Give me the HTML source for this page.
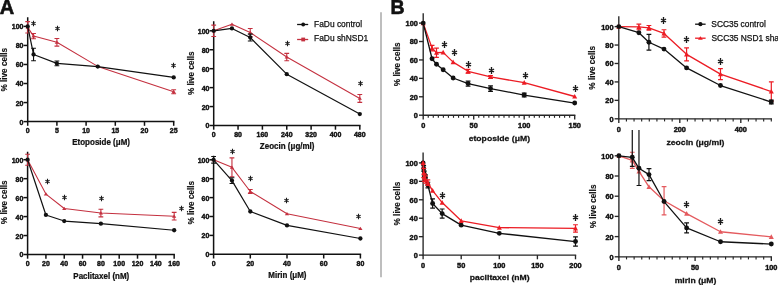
<!DOCTYPE html>
<html><head><meta charset="utf-8"><style>
html,body{margin:0;padding:0;background:#fff;width:778px;height:285px;overflow:hidden}
svg{display:block;will-change:transform}
text{font-family:"Liberation Sans",sans-serif}
.t{stroke:#111;stroke-width:0.45px}
.l{stroke:#111;stroke-width:0.25px}
.y{stroke:#111;stroke-width:0.15px}
.x{stroke:#111;stroke-width:0.25px}
</style></head><body>
<svg width="778" height="285" viewBox="0 0 778 285" font-family="Liberation Sans, sans-serif" fill="#111">
<rect width="778" height="285" fill="#fff"/>
<path d="M27.7 18V121.6H173.7" stroke="#111" stroke-width="1.5" fill="none" stroke-linecap="square"/>
<path d="M23.5 121.6H27.7" stroke="#111" stroke-width="1.5"/>
<text transform="translate(23.5 124.56) scale(0.92 1)" font-size="7.6" font-weight="bold" text-anchor="end" class="t">0</text>
<path d="M23.5 102.56H27.7" stroke="#111" stroke-width="1.5"/>
<text transform="translate(23.5 105.52) scale(0.92 1)" font-size="7.6" font-weight="bold" text-anchor="end" class="t">20</text>
<path d="M23.5 83.52H27.7" stroke="#111" stroke-width="1.5"/>
<text transform="translate(23.5 86.48) scale(0.92 1)" font-size="7.6" font-weight="bold" text-anchor="end" class="t">40</text>
<path d="M23.5 64.48H27.7" stroke="#111" stroke-width="1.5"/>
<text transform="translate(23.5 67.44) scale(0.92 1)" font-size="7.6" font-weight="bold" text-anchor="end" class="t">60</text>
<path d="M23.5 45.44H27.7" stroke="#111" stroke-width="1.5"/>
<text transform="translate(23.5 48.4) scale(0.92 1)" font-size="7.6" font-weight="bold" text-anchor="end" class="t">80</text>
<path d="M23.5 26.4H27.7" stroke="#111" stroke-width="1.5"/>
<text transform="translate(23.5 29.36) scale(0.92 1)" font-size="7.6" font-weight="bold" text-anchor="end" class="t">100</text>
<path d="M27.7 121.6V125.8" stroke="#111" stroke-width="1.5"/>
<text transform="translate(27.7 133.1) scale(0.92 1)" font-size="7.6" font-weight="bold" text-anchor="middle" class="t">0</text>
<path d="M56.9 121.6V125.8" stroke="#111" stroke-width="1.5"/>
<text transform="translate(56.9 133.1) scale(0.92 1)" font-size="7.6" font-weight="bold" text-anchor="middle" class="t">5</text>
<path d="M86.1 121.6V125.8" stroke="#111" stroke-width="1.5"/>
<text transform="translate(86.1 133.1) scale(0.92 1)" font-size="7.6" font-weight="bold" text-anchor="middle" class="t">10</text>
<path d="M115.3 121.6V125.8" stroke="#111" stroke-width="1.5"/>
<text transform="translate(115.3 133.1) scale(0.92 1)" font-size="7.6" font-weight="bold" text-anchor="middle" class="t">15</text>
<path d="M144.5 121.6V125.8" stroke="#111" stroke-width="1.5"/>
<text transform="translate(144.5 133.1) scale(0.92 1)" font-size="7.6" font-weight="bold" text-anchor="middle" class="t">20</text>
<path d="M173.7 121.6V125.8" stroke="#111" stroke-width="1.5"/>
<text transform="translate(173.7 133.1) scale(0.92 1)" font-size="7.6" font-weight="bold" text-anchor="middle" class="t">25</text>
<path d="M27.7 27.35 L33.54 36.11 L56.9 42.3 L97.78 66.38 L173.7 91.8" fill="none" stroke="#c4303f" stroke-width="1.05" stroke-linejoin="round"/>
<path d="M27.7 21.64V33.06M25.3 33.06H30.1M25.3 21.64H30.1" stroke="#c4303f" stroke-width="1.1" fill="none"/>
<path d="M33.54 33.54V38.68M31.14 38.68H35.94M31.14 33.54H35.94" stroke="#c4303f" stroke-width="1.1" fill="none"/>
<path d="M56.9 38.49V46.11M54.5 46.11H59.3M54.5 38.49H59.3" stroke="#c4303f" stroke-width="1.1" fill="none"/>
<path d="M173.7 89.8V93.8M171.3 93.8H176.1M171.3 89.8H176.1" stroke="#c4303f" stroke-width="1.1" fill="none"/>
<path d="M27.7 25.57L29.83 28.81L25.57 28.81Z" fill="#c4303f"/>
<path d="M33.54 34.33L35.67 37.57L31.41 37.57Z" fill="#c4303f"/>
<path d="M56.9 40.52L59.03 43.76L54.77 43.76Z" fill="#c4303f"/>
<path d="M97.78 64.6L99.91 67.84L95.65 67.84Z" fill="#c4303f"/>
<path d="M173.7 90.02L175.83 93.26L171.57 93.26Z" fill="#c4303f"/>
<path d="M27.7 26.4 L33.54 54.48 L56.9 63.43 L97.78 66.57 L173.7 77.43" fill="none" stroke="#111" stroke-width="1.2" stroke-linejoin="round"/>
<path d="M33.54 48.2V60.77M31.14 60.77H35.94M31.14 48.2H35.94" stroke="#111" stroke-width="1.1" fill="none"/>
<path d="M56.9 61.05V65.81M54.5 65.81H59.3M54.5 61.05H59.3" stroke="#111" stroke-width="1.1" fill="none"/>
<circle cx="27.7" cy="26.4" r="2.15" fill="#111"/>
<circle cx="33.54" cy="54.48" r="2.15" fill="#111"/>
<circle cx="56.9" cy="63.43" r="2.15" fill="#111"/>
<circle cx="97.78" cy="66.57" r="2.15" fill="#111"/>
<circle cx="173.7" cy="77.43" r="2.15" fill="#111"/>
<text transform="translate(101.1 145.4) scale(0.93 1)" font-size="8.6" font-weight="bold" text-anchor="middle" class="x">Etoposide (&#956;M)</text>
<text transform="translate(7.4 69.7) rotate(-90)" font-size="8.2" font-weight="bold" text-anchor="middle" class="y">% live cells</text>
<path d="M33.5 20.74L33.5 26.26M31.42 22.3L35.58 24.7M35.58 22.3L31.42 24.7" stroke="#1a1a1a" stroke-width="1.1" fill="none"/>
<path d="M57.5 25.74L57.5 31.26M55.42 27.3L59.58 29.7M59.58 27.3L55.42 29.7" stroke="#1a1a1a" stroke-width="1.1" fill="none"/>
<path d="M173.5 62.74L173.5 68.26M171.42 64.3L175.58 66.7M175.58 64.3L171.42 66.7" stroke="#1a1a1a" stroke-width="1.1" fill="none"/>
<path d="M213.7 22V125.5H359.81" stroke="#111" stroke-width="1.5" fill="none" stroke-linecap="square"/>
<path d="M209.5 125.5H213.7" stroke="#111" stroke-width="1.5"/>
<text transform="translate(209.5 128.46) scale(0.92 1)" font-size="7.6" font-weight="bold" text-anchor="end" class="t">0</text>
<path d="M209.5 106.56H213.7" stroke="#111" stroke-width="1.5"/>
<text transform="translate(209.5 109.52) scale(0.92 1)" font-size="7.6" font-weight="bold" text-anchor="end" class="t">20</text>
<path d="M209.5 87.62H213.7" stroke="#111" stroke-width="1.5"/>
<text transform="translate(209.5 90.58) scale(0.92 1)" font-size="7.6" font-weight="bold" text-anchor="end" class="t">40</text>
<path d="M209.5 68.68H213.7" stroke="#111" stroke-width="1.5"/>
<text transform="translate(209.5 71.64) scale(0.92 1)" font-size="7.6" font-weight="bold" text-anchor="end" class="t">60</text>
<path d="M209.5 49.74H213.7" stroke="#111" stroke-width="1.5"/>
<text transform="translate(209.5 52.7) scale(0.92 1)" font-size="7.6" font-weight="bold" text-anchor="end" class="t">80</text>
<path d="M209.5 30.8H213.7" stroke="#111" stroke-width="1.5"/>
<text transform="translate(209.5 33.76) scale(0.92 1)" font-size="7.6" font-weight="bold" text-anchor="end" class="t">100</text>
<path d="M213.7 125.5V129.7" stroke="#111" stroke-width="1.5"/>
<text transform="translate(213.7 137) scale(0.92 1)" font-size="7.6" font-weight="bold" text-anchor="middle" class="t">0</text>
<path d="M238.05 125.5V129.7" stroke="#111" stroke-width="1.5"/>
<text transform="translate(238.05 137) scale(0.92 1)" font-size="7.6" font-weight="bold" text-anchor="middle" class="t">80</text>
<path d="M262.4 125.5V129.7" stroke="#111" stroke-width="1.5"/>
<text transform="translate(262.4 137) scale(0.92 1)" font-size="7.6" font-weight="bold" text-anchor="middle" class="t">160</text>
<path d="M286.76 125.5V129.7" stroke="#111" stroke-width="1.5"/>
<text transform="translate(286.76 137) scale(0.92 1)" font-size="7.6" font-weight="bold" text-anchor="middle" class="t">240</text>
<path d="M311.11 125.5V129.7" stroke="#111" stroke-width="1.5"/>
<text transform="translate(311.11 137) scale(0.92 1)" font-size="7.6" font-weight="bold" text-anchor="middle" class="t">320</text>
<path d="M335.46 125.5V129.7" stroke="#111" stroke-width="1.5"/>
<text transform="translate(335.46 137) scale(0.92 1)" font-size="7.6" font-weight="bold" text-anchor="middle" class="t">400</text>
<path d="M359.81 125.5V129.7" stroke="#111" stroke-width="1.5"/>
<text transform="translate(359.81 137) scale(0.92 1)" font-size="7.6" font-weight="bold" text-anchor="middle" class="t">480</text>
<path d="M213.7 30.8 L231.96 24.17 L250.23 32.5 L286.76 57.03 L359.81 98.42" fill="none" stroke="#c4303f" stroke-width="1.05" stroke-linejoin="round"/>
<path d="M213.7 25.12V36.48M211.3 36.48H216.1M211.3 25.12H216.1" stroke="#c4303f" stroke-width="1.1" fill="none"/>
<path d="M250.23 28.43V36.58M247.83 36.58H252.63M247.83 28.43H252.63" stroke="#c4303f" stroke-width="1.1" fill="none"/>
<path d="M286.76 53.34V60.73M284.36 60.73H289.16M284.36 53.34H289.16" stroke="#c4303f" stroke-width="1.1" fill="none"/>
<path d="M359.81 94.44V102.39M357.41 102.39H362.21M357.41 94.44H362.21" stroke="#c4303f" stroke-width="1.1" fill="none"/>
<path d="M213.7 29.02L215.83 32.26L211.57 32.26Z" fill="#c4303f"/>
<path d="M231.96 22.39L234.09 25.63L229.84 25.63Z" fill="#c4303f"/>
<path d="M250.23 30.72L252.36 33.96L248.1 33.96Z" fill="#c4303f"/>
<path d="M286.76 55.25L288.88 58.49L284.63 58.49Z" fill="#c4303f"/>
<path d="M359.81 96.64L361.94 99.87L357.68 99.87Z" fill="#c4303f"/>
<path d="M213.7 30.8 L231.96 28.43 L250.23 37.52 L286.76 74.17 L359.81 114.04" fill="none" stroke="#111" stroke-width="1.2" stroke-linejoin="round"/>
<path d="M250.23 34.11V40.93M247.83 40.93H252.63M247.83 34.11H252.63" stroke="#111" stroke-width="1.1" fill="none"/>
<circle cx="213.7" cy="30.8" r="2.15" fill="#111"/>
<circle cx="231.96" cy="28.43" r="2.15" fill="#111"/>
<circle cx="250.23" cy="37.52" r="2.15" fill="#111"/>
<circle cx="286.76" cy="74.17" r="2.15" fill="#111"/>
<circle cx="359.81" cy="114.04" r="2.15" fill="#111"/>
<text transform="translate(287.16 148.6) scale(0.93 1)" font-size="8.6" font-weight="bold" text-anchor="middle" class="x">Zeocin (&#956;g/ml)</text>
<text transform="translate(193.8 73.2) rotate(-90)" font-size="8.2" font-weight="bold" text-anchor="middle" class="y">% live cells</text>
<path d="M287.5 40.74L287.5 46.26M285.42 42.3L289.58 44.7M289.58 42.3L285.42 44.7" stroke="#1a1a1a" stroke-width="1.1" fill="none"/>
<path d="M360.5 80.74L360.5 86.26M358.42 82.3L362.58 84.7M362.58 82.3L358.42 84.7" stroke="#1a1a1a" stroke-width="1.1" fill="none"/>
<path d="M27.6 152.6V254.5H174.16" stroke="#111" stroke-width="1.5" fill="none" stroke-linecap="square"/>
<path d="M23.4 254.5H27.6" stroke="#111" stroke-width="1.5"/>
<text transform="translate(23.4 257.46) scale(0.92 1)" font-size="7.6" font-weight="bold" text-anchor="end" class="t">0</text>
<path d="M23.4 235.54H27.6" stroke="#111" stroke-width="1.5"/>
<text transform="translate(23.4 238.5) scale(0.92 1)" font-size="7.6" font-weight="bold" text-anchor="end" class="t">20</text>
<path d="M23.4 216.58H27.6" stroke="#111" stroke-width="1.5"/>
<text transform="translate(23.4 219.54) scale(0.92 1)" font-size="7.6" font-weight="bold" text-anchor="end" class="t">40</text>
<path d="M23.4 197.62H27.6" stroke="#111" stroke-width="1.5"/>
<text transform="translate(23.4 200.58) scale(0.92 1)" font-size="7.6" font-weight="bold" text-anchor="end" class="t">60</text>
<path d="M23.4 178.66H27.6" stroke="#111" stroke-width="1.5"/>
<text transform="translate(23.4 181.62) scale(0.92 1)" font-size="7.6" font-weight="bold" text-anchor="end" class="t">80</text>
<path d="M23.4 159.7H27.6" stroke="#111" stroke-width="1.5"/>
<text transform="translate(23.4 162.66) scale(0.92 1)" font-size="7.6" font-weight="bold" text-anchor="end" class="t">100</text>
<path d="M27.6 254.5V258.7" stroke="#111" stroke-width="1.5"/>
<text transform="translate(27.6 266) scale(0.92 1)" font-size="7.6" font-weight="bold" text-anchor="middle" class="t">0</text>
<path d="M45.92 254.5V258.7" stroke="#111" stroke-width="1.5"/>
<text transform="translate(45.92 266) scale(0.92 1)" font-size="7.6" font-weight="bold" text-anchor="middle" class="t">20</text>
<path d="M64.24 254.5V258.7" stroke="#111" stroke-width="1.5"/>
<text transform="translate(64.24 266) scale(0.92 1)" font-size="7.6" font-weight="bold" text-anchor="middle" class="t">40</text>
<path d="M82.56 254.5V258.7" stroke="#111" stroke-width="1.5"/>
<text transform="translate(82.56 266) scale(0.92 1)" font-size="7.6" font-weight="bold" text-anchor="middle" class="t">60</text>
<path d="M100.88 254.5V258.7" stroke="#111" stroke-width="1.5"/>
<text transform="translate(100.88 266) scale(0.92 1)" font-size="7.6" font-weight="bold" text-anchor="middle" class="t">80</text>
<path d="M119.2 254.5V258.7" stroke="#111" stroke-width="1.5"/>
<text transform="translate(119.2 266) scale(0.92 1)" font-size="7.6" font-weight="bold" text-anchor="middle" class="t">100</text>
<path d="M137.52 254.5V258.7" stroke="#111" stroke-width="1.5"/>
<text transform="translate(137.52 266) scale(0.92 1)" font-size="7.6" font-weight="bold" text-anchor="middle" class="t">120</text>
<path d="M155.84 254.5V258.7" stroke="#111" stroke-width="1.5"/>
<text transform="translate(155.84 266) scale(0.92 1)" font-size="7.6" font-weight="bold" text-anchor="middle" class="t">140</text>
<path d="M174.16 254.5V258.7" stroke="#111" stroke-width="1.5"/>
<text transform="translate(174.16 266) scale(0.92 1)" font-size="7.6" font-weight="bold" text-anchor="middle" class="t">160</text>
<path d="M27.6 159.7 L45.92 194.11 L64.24 208.52 L100.88 213.07 L174.16 216.2" fill="none" stroke="#c4303f" stroke-width="1.05" stroke-linejoin="round"/>
<path d="M27.6 154.2V165.2M25.2 165.2H30M25.2 154.2H30" stroke="#c4303f" stroke-width="1.1" fill="none"/>
<path d="M100.88 209.28V216.86M98.48 216.86H103.28M98.48 209.28H103.28" stroke="#c4303f" stroke-width="1.1" fill="none"/>
<path d="M174.16 212.41V219.99M171.76 219.99H176.56M171.76 212.41H176.56" stroke="#c4303f" stroke-width="1.1" fill="none"/>
<path d="M27.6 157.92L29.73 161.16L25.47 161.16Z" fill="#c4303f"/>
<path d="M45.92 192.33L48.05 195.57L43.79 195.57Z" fill="#c4303f"/>
<path d="M64.24 206.74L66.37 209.98L62.11 209.98Z" fill="#c4303f"/>
<path d="M100.88 211.29L103.01 214.53L98.75 214.53Z" fill="#c4303f"/>
<path d="M174.16 214.42L176.29 217.66L172.03 217.66Z" fill="#c4303f"/>
<path d="M27.6 159.7 L45.92 214.97 L64.24 221.04 L100.88 223.69 L174.16 230.23" fill="none" stroke="#111" stroke-width="1.2" stroke-linejoin="round"/>
<circle cx="27.6" cy="159.7" r="2.15" fill="#111"/>
<circle cx="45.92" cy="214.97" r="2.15" fill="#111"/>
<circle cx="64.24" cy="221.04" r="2.15" fill="#111"/>
<circle cx="100.88" cy="223.69" r="2.15" fill="#111"/>
<circle cx="174.16" cy="230.23" r="2.15" fill="#111"/>
<text transform="translate(101.28 278.7) scale(0.93 1)" font-size="8.6" font-weight="bold" text-anchor="middle" class="x">Paclitaxel (nM)</text>
<text transform="translate(7.4 202.3) rotate(-90)" font-size="8.2" font-weight="bold" text-anchor="middle" class="y">% live cells</text>
<path d="M47.5 178.74L47.5 184.26M45.42 180.3L49.58 182.7M49.58 180.3L45.42 182.7" stroke="#1a1a1a" stroke-width="1.1" fill="none"/>
<path d="M64.5 194.74L64.5 200.26M62.42 196.3L66.58 198.7M66.58 196.3L62.42 198.7" stroke="#1a1a1a" stroke-width="1.1" fill="none"/>
<path d="M101.5 195.74L101.5 201.26M99.42 197.3L103.58 199.7M103.58 197.3L99.42 199.7" stroke="#1a1a1a" stroke-width="1.1" fill="none"/>
<path d="M181.5 205.74L181.5 211.26M179.42 207.3L183.58 209.7M183.58 207.3L179.42 209.7" stroke="#1a1a1a" stroke-width="1.1" fill="none"/>
<path d="M213.6 156.5V254.3H360.4" stroke="#111" stroke-width="1.5" fill="none" stroke-linecap="square"/>
<path d="M209.4 254.3H213.6" stroke="#111" stroke-width="1.5"/>
<text transform="translate(209.4 257.26) scale(0.92 1)" font-size="7.6" font-weight="bold" text-anchor="end" class="t">0</text>
<path d="M209.4 235.4H213.6" stroke="#111" stroke-width="1.5"/>
<text transform="translate(209.4 238.36) scale(0.92 1)" font-size="7.6" font-weight="bold" text-anchor="end" class="t">20</text>
<path d="M209.4 216.5H213.6" stroke="#111" stroke-width="1.5"/>
<text transform="translate(209.4 219.46) scale(0.92 1)" font-size="7.6" font-weight="bold" text-anchor="end" class="t">40</text>
<path d="M209.4 197.6H213.6" stroke="#111" stroke-width="1.5"/>
<text transform="translate(209.4 200.56) scale(0.92 1)" font-size="7.6" font-weight="bold" text-anchor="end" class="t">60</text>
<path d="M209.4 178.7H213.6" stroke="#111" stroke-width="1.5"/>
<text transform="translate(209.4 181.66) scale(0.92 1)" font-size="7.6" font-weight="bold" text-anchor="end" class="t">80</text>
<path d="M209.4 159.8H213.6" stroke="#111" stroke-width="1.5"/>
<text transform="translate(209.4 162.76) scale(0.92 1)" font-size="7.6" font-weight="bold" text-anchor="end" class="t">100</text>
<path d="M213.6 254.3V258.5" stroke="#111" stroke-width="1.5"/>
<text transform="translate(213.6 265.8) scale(0.92 1)" font-size="7.6" font-weight="bold" text-anchor="middle" class="t">0</text>
<path d="M250.3 254.3V258.5" stroke="#111" stroke-width="1.5"/>
<text transform="translate(250.3 265.8) scale(0.92 1)" font-size="7.6" font-weight="bold" text-anchor="middle" class="t">20</text>
<path d="M287 254.3V258.5" stroke="#111" stroke-width="1.5"/>
<text transform="translate(287 265.8) scale(0.92 1)" font-size="7.6" font-weight="bold" text-anchor="middle" class="t">40</text>
<path d="M323.7 254.3V258.5" stroke="#111" stroke-width="1.5"/>
<text transform="translate(323.7 265.8) scale(0.92 1)" font-size="7.6" font-weight="bold" text-anchor="middle" class="t">60</text>
<path d="M360.4 254.3V258.5" stroke="#111" stroke-width="1.5"/>
<text transform="translate(360.4 265.8) scale(0.92 1)" font-size="7.6" font-weight="bold" text-anchor="middle" class="t">80</text>
<path d="M213.6 159.8 L231.95 167.36 L250.3 191.46 L287 213.76 L360.4 228.6" fill="none" stroke="#c4303f" stroke-width="1.05" stroke-linejoin="round"/>
<path d="M231.95 157.91V176.81M229.55 176.81H234.35M229.55 157.91H234.35" stroke="#c4303f" stroke-width="1.1" fill="none"/>
<path d="M250.3 189.57V193.35M247.9 193.35H252.7M247.9 189.57H252.7" stroke="#c4303f" stroke-width="1.1" fill="none"/>
<path d="M213.6 158.02L215.73 161.26L211.47 161.26Z" fill="#c4303f"/>
<path d="M231.95 165.58L234.08 168.82L229.82 168.82Z" fill="#c4303f"/>
<path d="M250.3 189.68L252.43 192.91L248.17 192.91Z" fill="#c4303f"/>
<path d="M287 211.98L289.13 215.22L284.87 215.22Z" fill="#c4303f"/>
<path d="M360.4 226.82L362.53 230.05L358.27 230.05Z" fill="#c4303f"/>
<path d="M213.6 159.8 L231.95 180.59 L250.3 211.49 L287 225.38 L360.4 238.52" fill="none" stroke="#111" stroke-width="1.2" stroke-linejoin="round"/>
<path d="M213.6 156.49V163.11M211.2 163.11H216M211.2 156.49H216" stroke="#111" stroke-width="1.1" fill="none"/>
<path d="M231.95 177.75V183.43M229.55 183.43H234.35M229.55 177.75H234.35" stroke="#111" stroke-width="1.1" fill="none"/>
<circle cx="213.6" cy="159.8" r="2.15" fill="#111"/>
<circle cx="231.95" cy="180.59" r="2.15" fill="#111"/>
<circle cx="250.3" cy="211.49" r="2.15" fill="#111"/>
<circle cx="287" cy="225.38" r="2.15" fill="#111"/>
<circle cx="360.4" cy="238.52" r="2.15" fill="#111"/>
<text transform="translate(287.4 278.3) scale(0.93 1)" font-size="8.6" font-weight="bold" text-anchor="middle" class="x">Mirin (&#956;M)</text>
<text transform="translate(193.8 202.7) rotate(-90)" font-size="8.2" font-weight="bold" text-anchor="middle" class="y">% live cells</text>
<path d="M232.5 148.74L232.5 154.26M230.42 150.3L234.58 152.7M234.58 150.3L230.42 152.7" stroke="#1a1a1a" stroke-width="1.1" fill="none"/>
<path d="M250.5 175.74L250.5 181.26M248.42 177.3L252.58 179.7M252.58 177.3L248.42 179.7" stroke="#1a1a1a" stroke-width="1.1" fill="none"/>
<path d="M286.5 197.74L286.5 203.26M284.42 199.3L288.58 201.7M288.58 199.3L284.42 201.7" stroke="#1a1a1a" stroke-width="1.1" fill="none"/>
<path d="M358.5 213.74L358.5 219.26M356.42 215.3L360.58 217.7M360.58 215.3L356.42 217.7" stroke="#1a1a1a" stroke-width="1.1" fill="none"/>
<path d="M423.2 14V115.2H574.7" stroke="#262626" stroke-width="1.35" fill="none" stroke-linecap="square"/>
<path d="M419 115.2H423.2" stroke="#262626" stroke-width="1.35"/>
<text transform="translate(417.9 118.16) scale(0.97 1)" font-size="7.6" font-weight="bold" text-anchor="end" class="t">0</text>
<path d="M419 96.78H423.2" stroke="#262626" stroke-width="1.35"/>
<text transform="translate(417.9 99.74) scale(0.97 1)" font-size="7.6" font-weight="bold" text-anchor="end" class="t">20</text>
<path d="M419 78.36H423.2" stroke="#262626" stroke-width="1.35"/>
<text transform="translate(417.9 81.32) scale(0.97 1)" font-size="7.6" font-weight="bold" text-anchor="end" class="t">40</text>
<path d="M419 59.94H423.2" stroke="#262626" stroke-width="1.35"/>
<text transform="translate(417.9 62.9) scale(0.97 1)" font-size="7.6" font-weight="bold" text-anchor="end" class="t">60</text>
<path d="M419 41.52H423.2" stroke="#262626" stroke-width="1.35"/>
<text transform="translate(417.9 44.48) scale(0.97 1)" font-size="7.6" font-weight="bold" text-anchor="end" class="t">80</text>
<path d="M419 23.1H423.2" stroke="#262626" stroke-width="1.35"/>
<text transform="translate(417.9 26.06) scale(0.97 1)" font-size="7.6" font-weight="bold" text-anchor="end" class="t">100</text>
<path d="M423.2 115.2V119.4" stroke="#262626" stroke-width="1.35"/>
<text transform="translate(423.2 128) scale(0.97 1)" font-size="7.6" font-weight="bold" text-anchor="middle" class="t">0</text>
<path d="M473.7 115.2V119.4" stroke="#262626" stroke-width="1.35"/>
<text transform="translate(473.7 128) scale(0.97 1)" font-size="7.6" font-weight="bold" text-anchor="middle" class="t">50</text>
<path d="M524.2 115.2V119.4" stroke="#262626" stroke-width="1.35"/>
<text transform="translate(524.2 128) scale(0.97 1)" font-size="7.6" font-weight="bold" text-anchor="middle" class="t">100</text>
<path d="M574.7 115.2V119.4" stroke="#262626" stroke-width="1.35"/>
<text transform="translate(574.7 128) scale(0.97 1)" font-size="7.6" font-weight="bold" text-anchor="middle" class="t">150</text>
<path d="M428.25 115.2V117.8" stroke="#262626" stroke-width="1.1475"/>
<path d="M433.3 115.2V117.8" stroke="#262626" stroke-width="1.1475"/>
<path d="M438.35 115.2V117.8" stroke="#262626" stroke-width="1.1475"/>
<path d="M443.4 115.2V117.8" stroke="#262626" stroke-width="1.1475"/>
<path d="M448.45 115.2V117.8" stroke="#262626" stroke-width="1.1475"/>
<path d="M453.5 115.2V117.8" stroke="#262626" stroke-width="1.1475"/>
<path d="M458.55 115.2V117.8" stroke="#262626" stroke-width="1.1475"/>
<path d="M463.6 115.2V117.8" stroke="#262626" stroke-width="1.1475"/>
<path d="M468.65 115.2V117.8" stroke="#262626" stroke-width="1.1475"/>
<path d="M478.75 115.2V117.8" stroke="#262626" stroke-width="1.1475"/>
<path d="M483.8 115.2V117.8" stroke="#262626" stroke-width="1.1475"/>
<path d="M488.85 115.2V117.8" stroke="#262626" stroke-width="1.1475"/>
<path d="M493.9 115.2V117.8" stroke="#262626" stroke-width="1.1475"/>
<path d="M498.95 115.2V117.8" stroke="#262626" stroke-width="1.1475"/>
<path d="M504 115.2V117.8" stroke="#262626" stroke-width="1.1475"/>
<path d="M509.05 115.2V117.8" stroke="#262626" stroke-width="1.1475"/>
<path d="M514.1 115.2V117.8" stroke="#262626" stroke-width="1.1475"/>
<path d="M519.15 115.2V117.8" stroke="#262626" stroke-width="1.1475"/>
<path d="M529.25 115.2V117.8" stroke="#262626" stroke-width="1.1475"/>
<path d="M534.3 115.2V117.8" stroke="#262626" stroke-width="1.1475"/>
<path d="M539.35 115.2V117.8" stroke="#262626" stroke-width="1.1475"/>
<path d="M544.4 115.2V117.8" stroke="#262626" stroke-width="1.1475"/>
<path d="M549.45 115.2V117.8" stroke="#262626" stroke-width="1.1475"/>
<path d="M554.5 115.2V117.8" stroke="#262626" stroke-width="1.1475"/>
<path d="M559.55 115.2V117.8" stroke="#262626" stroke-width="1.1475"/>
<path d="M564.6 115.2V117.8" stroke="#262626" stroke-width="1.1475"/>
<path d="M569.65 115.2V117.8" stroke="#262626" stroke-width="1.1475"/>
<path d="M423.2 23.1 L432.07 48.15 L436.5 52.76 L443.15 52.39 L453.13 62.15 L468.08 71.27 L490.54 76.98 L524.2 82.69 L574.7 96.5" fill="none" stroke="#ec1c24" stroke-width="1.3" stroke-linejoin="round"/>
<path d="M432.07 45.39V50.91M429.67 50.91H434.47M429.67 45.39H434.47" stroke="#ec1c24" stroke-width="1.2" fill="none"/>
<path d="M436.5 48.15V57.36M434.1 57.36H438.9M434.1 48.15H438.9" stroke="#ec1c24" stroke-width="1.2" fill="none"/>
<path d="M468.08 69.43V73.11M465.68 73.11H470.48M465.68 69.43H470.48" stroke="#ec1c24" stroke-width="1.2" fill="none"/>
<path d="M490.54 75.6V78.36M488.14 78.36H492.94M488.14 75.6H492.94" stroke="#ec1c24" stroke-width="1.2" fill="none"/>
<path d="M423.2 20.51L425.73 25.21L420.67 25.21Z" fill="#ec1c24"/>
<path d="M432.07 45.57L434.6 50.27L429.54 50.27Z" fill="#ec1c24"/>
<path d="M436.5 50.17L439.03 54.87L433.97 54.87Z" fill="#ec1c24"/>
<path d="M443.15 49.8L445.68 54.5L440.62 54.5Z" fill="#ec1c24"/>
<path d="M453.13 59.57L455.66 64.27L450.6 64.27Z" fill="#ec1c24"/>
<path d="M468.08 68.68L470.61 73.38L465.55 73.38Z" fill="#ec1c24"/>
<path d="M490.54 74.39L493.07 79.09L488.01 79.09Z" fill="#ec1c24"/>
<path d="M524.2 80.1L526.73 84.8L521.67 84.8Z" fill="#ec1c24"/>
<path d="M574.7 93.92L577.23 98.62L572.17 98.62Z" fill="#ec1c24"/>
<path d="M423.2 23.1 L432.07 58.74 L436.5 64.27 L443.15 69.79 L453.13 77.99 L468.08 83.61 L490.54 88.58 L524.2 95.03 L574.7 103.04" fill="none" stroke="#111" stroke-width="1.3" stroke-linejoin="round"/>
<path d="M468.08 81.03V86.19M465.68 86.19H470.48M465.68 81.03H470.48" stroke="#111" stroke-width="1.2" fill="none"/>
<path d="M490.54 85.82V91.35M488.14 91.35H492.94M488.14 85.82H492.94" stroke="#111" stroke-width="1.2" fill="none"/>
<path d="M524.2 93.19V96.87M521.8 96.87H526.6M521.8 93.19H526.6" stroke="#111" stroke-width="1.2" fill="none"/>
<circle cx="423.2" cy="23.1" r="2.45" fill="#111"/>
<circle cx="432.07" cy="58.74" r="2.45" fill="#111"/>
<circle cx="436.5" cy="64.27" r="2.45" fill="#111"/>
<circle cx="443.15" cy="69.79" r="2.45" fill="#111"/>
<circle cx="453.13" cy="77.99" r="2.45" fill="#111"/>
<circle cx="468.08" cy="83.61" r="2.45" fill="#111"/>
<circle cx="490.54" cy="88.58" r="2.45" fill="#111"/>
<circle cx="524.2" cy="95.03" r="2.45" fill="#111"/>
<circle cx="574.7" cy="103.04" r="2.45" fill="#111"/>
<text transform="translate(499.35 140.7) scale(1.08 1)" font-size="8" font-weight="bold" text-anchor="middle" class="x">etoposide (&#956;M)</text>
<text transform="translate(399.8 64.3) rotate(-90)" font-size="8.2" font-weight="bold" text-anchor="middle" class="y">% live cells</text>
<path d="M444.5 41.11L444.5 47.89M441.95 43.02L447.05 45.98M447.05 43.02L441.95 45.98" stroke="#1a1a1a" stroke-width="1.35" fill="none"/>
<path d="M454.5 49.11L454.5 55.89M451.95 51.02L457.05 53.98M457.05 51.02L451.95 53.98" stroke="#1a1a1a" stroke-width="1.35" fill="none"/>
<path d="M468.5 61.11L468.5 67.89M465.95 63.02L471.05 65.97M471.05 63.02L465.95 65.97" stroke="#1a1a1a" stroke-width="1.35" fill="none"/>
<path d="M491.5 67.11L491.5 73.89M488.95 69.03L494.05 71.97M494.05 69.03L488.95 71.97" stroke="#1a1a1a" stroke-width="1.35" fill="none"/>
<path d="M525.5 72.11L525.5 78.89M522.95 74.03L528.05 76.97M528.05 74.03L522.95 76.97" stroke="#1a1a1a" stroke-width="1.35" fill="none"/>
<path d="M575.5 85.11L575.5 91.89M572.95 87.03L578.05 89.97M578.05 87.03L572.95 89.97" stroke="#1a1a1a" stroke-width="1.35" fill="none"/>
<path d="M618.8 16.8V118.8H771.3" stroke="#262626" stroke-width="1.35" fill="none" stroke-linecap="square"/>
<path d="M614.6 118.8H618.8" stroke="#262626" stroke-width="1.35"/>
<text transform="translate(613.5 121.76) scale(0.97 1)" font-size="7.6" font-weight="bold" text-anchor="end" class="t">0</text>
<path d="M614.6 100.36H618.8" stroke="#262626" stroke-width="1.35"/>
<text transform="translate(613.5 103.32) scale(0.97 1)" font-size="7.6" font-weight="bold" text-anchor="end" class="t">20</text>
<path d="M614.6 81.92H618.8" stroke="#262626" stroke-width="1.35"/>
<text transform="translate(613.5 84.88) scale(0.97 1)" font-size="7.6" font-weight="bold" text-anchor="end" class="t">40</text>
<path d="M614.6 63.48H618.8" stroke="#262626" stroke-width="1.35"/>
<text transform="translate(613.5 66.44) scale(0.97 1)" font-size="7.6" font-weight="bold" text-anchor="end" class="t">60</text>
<path d="M614.6 45.04H618.8" stroke="#262626" stroke-width="1.35"/>
<text transform="translate(613.5 48) scale(0.97 1)" font-size="7.6" font-weight="bold" text-anchor="end" class="t">80</text>
<path d="M614.6 26.6H618.8" stroke="#262626" stroke-width="1.35"/>
<text transform="translate(613.5 29.56) scale(0.97 1)" font-size="7.6" font-weight="bold" text-anchor="end" class="t">100</text>
<path d="M618.8 118.8V123" stroke="#262626" stroke-width="1.35"/>
<text transform="translate(618.8 131.6) scale(0.97 1)" font-size="7.6" font-weight="bold" text-anchor="middle" class="t">0</text>
<path d="M679.8 118.8V123" stroke="#262626" stroke-width="1.35"/>
<text transform="translate(679.8 131.6) scale(0.97 1)" font-size="7.6" font-weight="bold" text-anchor="middle" class="t">200</text>
<path d="M740.8 118.8V123" stroke="#262626" stroke-width="1.35"/>
<text transform="translate(740.8 131.6) scale(0.97 1)" font-size="7.6" font-weight="bold" text-anchor="middle" class="t">400</text>
<path d="M626.42 118.8V121.4" stroke="#262626" stroke-width="1.1475"/>
<path d="M634.05 118.8V121.4" stroke="#262626" stroke-width="1.1475"/>
<path d="M641.67 118.8V121.4" stroke="#262626" stroke-width="1.1475"/>
<path d="M649.3 118.8V121.4" stroke="#262626" stroke-width="1.1475"/>
<path d="M656.92 118.8V121.4" stroke="#262626" stroke-width="1.1475"/>
<path d="M664.55 118.8V121.4" stroke="#262626" stroke-width="1.1475"/>
<path d="M672.17 118.8V121.4" stroke="#262626" stroke-width="1.1475"/>
<path d="M687.42 118.8V121.4" stroke="#262626" stroke-width="1.1475"/>
<path d="M695.05 118.8V121.4" stroke="#262626" stroke-width="1.1475"/>
<path d="M702.67 118.8V121.4" stroke="#262626" stroke-width="1.1475"/>
<path d="M710.3 118.8V121.4" stroke="#262626" stroke-width="1.1475"/>
<path d="M717.92 118.8V121.4" stroke="#262626" stroke-width="1.1475"/>
<path d="M725.55 118.8V121.4" stroke="#262626" stroke-width="1.1475"/>
<path d="M733.17 118.8V121.4" stroke="#262626" stroke-width="1.1475"/>
<path d="M748.42 118.8V121.4" stroke="#262626" stroke-width="1.1475"/>
<path d="M756.05 118.8V121.4" stroke="#262626" stroke-width="1.1475"/>
<path d="M763.67 118.8V121.4" stroke="#262626" stroke-width="1.1475"/>
<path d="M771.3 118.8V121.4" stroke="#262626" stroke-width="1.1475"/>
<path d="M618.8 26.6 L638.88 26.97 L648.92 27.8 L663.99 33.42 L686.58 54.35 L720.47 74.18 L771.3 91.51" fill="none" stroke="#ec1c24" stroke-width="1.3" stroke-linejoin="round"/>
<path d="M638.88 24.2V29.73M636.48 29.73H641.28M636.48 24.2H641.28" stroke="#ec1c24" stroke-width="1.2" fill="none"/>
<path d="M648.92 25.49V30.1M646.52 30.1H651.32M646.52 25.49H651.32" stroke="#ec1c24" stroke-width="1.2" fill="none"/>
<path d="M663.99 29.73V37.11M661.59 37.11H666.39M661.59 29.73H666.39" stroke="#ec1c24" stroke-width="1.2" fill="none"/>
<path d="M686.58 47.9V60.81M684.18 60.81H688.98M684.18 47.9H688.98" stroke="#ec1c24" stroke-width="1.2" fill="none"/>
<path d="M720.47 68.64V79.71M718.07 79.71H722.87M718.07 68.64H722.87" stroke="#ec1c24" stroke-width="1.2" fill="none"/>
<path d="M771.3 81.83V101.19M768.9 101.19H773.7M768.9 81.83H773.7" stroke="#ec1c24" stroke-width="1.2" fill="none"/>
<path d="M618.8 24.01L621.33 28.71L616.27 28.71Z" fill="#ec1c24"/>
<path d="M638.88 24.38L641.41 29.08L636.35 29.08Z" fill="#ec1c24"/>
<path d="M648.92 25.21L651.45 29.91L646.39 29.91Z" fill="#ec1c24"/>
<path d="M663.99 30.84L666.52 35.54L661.46 35.54Z" fill="#ec1c24"/>
<path d="M686.58 51.77L689.11 56.47L684.05 56.47Z" fill="#ec1c24"/>
<path d="M720.47 71.59L723 76.29L717.94 76.29Z" fill="#ec1c24"/>
<path d="M771.3 88.92L773.83 93.62L768.77 93.62Z" fill="#ec1c24"/>
<path d="M618.8 26.6 L638.88 32.69 L648.92 42.27 L663.99 49.1 L686.58 67.91 L720.47 85.52 L771.3 102.02" fill="none" stroke="#111" stroke-width="1.3" stroke-linejoin="round"/>
<path d="M648.92 34.44V50.11M646.52 50.11H651.32M646.52 34.44H651.32" stroke="#111" stroke-width="1.2" fill="none"/>
<path d="M771.3 100.18V103.86M768.9 103.86H773.7M768.9 100.18H773.7" stroke="#111" stroke-width="1.2" fill="none"/>
<circle cx="618.8" cy="26.6" r="2.45" fill="#111"/>
<circle cx="638.88" cy="32.69" r="2.45" fill="#111"/>
<circle cx="648.92" cy="42.27" r="2.45" fill="#111"/>
<circle cx="663.99" cy="49.1" r="2.45" fill="#111"/>
<circle cx="686.58" cy="67.91" r="2.45" fill="#111"/>
<circle cx="720.47" cy="85.52" r="2.45" fill="#111"/>
<circle cx="771.3" cy="102.02" r="2.45" fill="#111"/>
<text transform="translate(695.45 144.5) scale(1.08 1)" font-size="8" font-weight="bold" text-anchor="middle" class="x">zeocin (&#956;g/ml)</text>
<text transform="translate(595.4 67.8) rotate(-90)" font-size="8.2" font-weight="bold" text-anchor="middle" class="y">% live cells</text>
<path d="M663.5 17.11L663.5 23.89M660.95 19.02L666.05 21.98M666.05 19.02L660.95 21.98" stroke="#1a1a1a" stroke-width="1.35" fill="none"/>
<path d="M686.5 36.11L686.5 42.89M683.95 38.02L689.05 40.98M689.05 38.02L683.95 40.98" stroke="#1a1a1a" stroke-width="1.35" fill="none"/>
<path d="M720.5 58.11L720.5 64.89M717.95 60.02L723.05 62.98M723.05 60.02L717.95 62.98" stroke="#1a1a1a" stroke-width="1.35" fill="none"/>
<path d="M423.1 153.2V255.1H575.5" stroke="#262626" stroke-width="1.35" fill="none" stroke-linecap="square"/>
<path d="M418.9 255.1H423.1" stroke="#262626" stroke-width="1.35"/>
<text transform="translate(417.8 258.06) scale(0.97 1)" font-size="7.6" font-weight="bold" text-anchor="end" class="t">0</text>
<path d="M418.9 236.66H423.1" stroke="#262626" stroke-width="1.35"/>
<text transform="translate(417.8 239.62) scale(0.97 1)" font-size="7.6" font-weight="bold" text-anchor="end" class="t">20</text>
<path d="M418.9 218.22H423.1" stroke="#262626" stroke-width="1.35"/>
<text transform="translate(417.8 221.18) scale(0.97 1)" font-size="7.6" font-weight="bold" text-anchor="end" class="t">40</text>
<path d="M418.9 199.78H423.1" stroke="#262626" stroke-width="1.35"/>
<text transform="translate(417.8 202.74) scale(0.97 1)" font-size="7.6" font-weight="bold" text-anchor="end" class="t">60</text>
<path d="M418.9 181.34H423.1" stroke="#262626" stroke-width="1.35"/>
<text transform="translate(417.8 184.3) scale(0.97 1)" font-size="7.6" font-weight="bold" text-anchor="end" class="t">80</text>
<path d="M418.9 162.9H423.1" stroke="#262626" stroke-width="1.35"/>
<text transform="translate(417.8 165.86) scale(0.97 1)" font-size="7.6" font-weight="bold" text-anchor="end" class="t">100</text>
<path d="M423.1 255.1V259.3" stroke="#262626" stroke-width="1.35"/>
<text transform="translate(423.1 267.9) scale(0.97 1)" font-size="7.6" font-weight="bold" text-anchor="middle" class="t">0</text>
<path d="M461.2 255.1V259.3" stroke="#262626" stroke-width="1.35"/>
<text transform="translate(461.2 267.9) scale(0.97 1)" font-size="7.6" font-weight="bold" text-anchor="middle" class="t">50</text>
<path d="M499.3 255.1V259.3" stroke="#262626" stroke-width="1.35"/>
<text transform="translate(499.3 267.9) scale(0.97 1)" font-size="7.6" font-weight="bold" text-anchor="middle" class="t">100</text>
<path d="M537.4 255.1V259.3" stroke="#262626" stroke-width="1.35"/>
<text transform="translate(537.4 267.9) scale(0.97 1)" font-size="7.6" font-weight="bold" text-anchor="middle" class="t">150</text>
<path d="M575.5 255.1V259.3" stroke="#262626" stroke-width="1.35"/>
<text transform="translate(575.5 267.9) scale(0.97 1)" font-size="7.6" font-weight="bold" text-anchor="middle" class="t">200</text>
<path d="M423.1 162.9 L423.69 168.43 L424.29 173.96 L425.48 177.65 L427.86 185.03 L432.62 203.47 L442.15 213.61 L461.2 225.13 L499.3 233.34 L575.5 241.55" fill="none" stroke="#111" stroke-width="1.3" stroke-linejoin="round"/>
<path d="M423.69 165.67V171.2M421.29 171.2H426.09M421.29 165.67H426.09" stroke="#111" stroke-width="1.2" fill="none"/>
<path d="M424.29 171.2V176.73M421.89 176.73H426.69M421.89 171.2H426.69" stroke="#111" stroke-width="1.2" fill="none"/>
<path d="M425.48 174.89V180.42M423.08 180.42H427.88M423.08 174.89H427.88" stroke="#111" stroke-width="1.2" fill="none"/>
<path d="M427.86 182.26V187.79M425.46 187.79H430.26M425.46 182.26H430.26" stroke="#111" stroke-width="1.2" fill="none"/>
<path d="M432.62 198.86V208.08M430.23 208.08H435.02M430.23 198.86H435.02" stroke="#111" stroke-width="1.2" fill="none"/>
<path d="M442.15 209V218.22M439.75 218.22H444.55M439.75 209H444.55" stroke="#111" stroke-width="1.2" fill="none"/>
<path d="M575.5 236.94V246.16M573.1 246.16H577.9M573.1 236.94H577.9" stroke="#111" stroke-width="1.2" fill="none"/>
<circle cx="423.1" cy="162.9" r="2.45" fill="#111"/>
<circle cx="423.69" cy="168.43" r="2.45" fill="#111"/>
<circle cx="424.29" cy="173.96" r="2.45" fill="#111"/>
<circle cx="425.48" cy="177.65" r="2.45" fill="#111"/>
<circle cx="427.86" cy="185.03" r="2.45" fill="#111"/>
<circle cx="432.62" cy="203.47" r="2.45" fill="#111"/>
<circle cx="442.15" cy="213.61" r="2.45" fill="#111"/>
<circle cx="461.2" cy="225.13" r="2.45" fill="#111"/>
<circle cx="499.3" cy="233.34" r="2.45" fill="#111"/>
<circle cx="575.5" cy="241.55" r="2.45" fill="#111"/>
<path d="M423.1 162.9 L423.69 173.04 L424.29 177.65 L425.48 179.5 L427.86 182.72 L432.62 190.56 L442.15 202.55 L461.2 220.8 L499.3 227.62 L575.5 228.45" fill="none" stroke="#ec1c24" stroke-width="1.3" stroke-linejoin="round"/>
<path d="M423.69 168.43V177.65M421.29 177.65H426.09M421.29 168.43H426.09" stroke="#ec1c24" stroke-width="1.2" fill="none"/>
<path d="M424.29 173.96V181.34M421.89 181.34H426.69M421.89 173.96H426.69" stroke="#ec1c24" stroke-width="1.2" fill="none"/>
<path d="M425.48 175.81V183.18M423.08 183.18H427.88M423.08 175.81H427.88" stroke="#ec1c24" stroke-width="1.2" fill="none"/>
<path d="M427.86 179.96V185.49M425.46 185.49H430.26M425.46 179.96H430.26" stroke="#ec1c24" stroke-width="1.2" fill="none"/>
<path d="M575.5 224.77V232.14M573.1 232.14H577.9M573.1 224.77H577.9" stroke="#ec1c24" stroke-width="1.2" fill="none"/>
<path d="M423.1 160.31L425.63 165.01L420.57 165.01Z" fill="#ec1c24"/>
<path d="M423.69 170.46L426.22 175.16L421.16 175.16Z" fill="#ec1c24"/>
<path d="M424.29 175.07L426.82 179.77L421.76 179.77Z" fill="#ec1c24"/>
<path d="M425.48 176.91L428.01 181.61L422.95 181.61Z" fill="#ec1c24"/>
<path d="M427.86 180.14L430.39 184.84L425.33 184.84Z" fill="#ec1c24"/>
<path d="M432.62 187.97L435.15 192.68L430.1 192.68Z" fill="#ec1c24"/>
<path d="M442.15 199.96L444.68 204.66L439.62 204.66Z" fill="#ec1c24"/>
<path d="M461.2 218.22L463.73 222.92L458.67 222.92Z" fill="#ec1c24"/>
<path d="M499.3 225.04L501.83 229.74L496.77 229.74Z" fill="#ec1c24"/>
<path d="M575.5 225.87L578.03 230.57L572.97 230.57Z" fill="#ec1c24"/>
<text transform="translate(499.7 280.1) scale(1.08 1)" font-size="8" font-weight="bold" text-anchor="middle" class="x">paclitaxel (nM)</text>
<text transform="translate(399.8 203.6) rotate(-90)" font-size="8.2" font-weight="bold" text-anchor="middle" class="y">% live cells</text>
<path d="M442.5 192.11L442.5 198.89M439.95 194.03L445.05 196.97M445.05 194.03L439.95 196.97" stroke="#1a1a1a" stroke-width="1.35" fill="none"/>
<path d="M575.5 214.11L575.5 220.89M572.95 216.03L578.05 218.97M578.05 216.03L572.95 218.97" stroke="#1a1a1a" stroke-width="1.35" fill="none"/>
<path d="M618.9 155.8V256.8H771.3" stroke="#262626" stroke-width="1.35" fill="none" stroke-linecap="square"/>
<path d="M614.7 256.8H618.9" stroke="#262626" stroke-width="1.35"/>
<text transform="translate(613.6 259.76) scale(0.97 1)" font-size="7.6" font-weight="bold" text-anchor="end" class="t">0</text>
<path d="M614.7 236.6H618.9" stroke="#262626" stroke-width="1.35"/>
<text transform="translate(613.6 239.56) scale(0.97 1)" font-size="7.6" font-weight="bold" text-anchor="end" class="t">20</text>
<path d="M614.7 216.4H618.9" stroke="#262626" stroke-width="1.35"/>
<text transform="translate(613.6 219.36) scale(0.97 1)" font-size="7.6" font-weight="bold" text-anchor="end" class="t">40</text>
<path d="M614.7 196.2H618.9" stroke="#262626" stroke-width="1.35"/>
<text transform="translate(613.6 199.16) scale(0.97 1)" font-size="7.6" font-weight="bold" text-anchor="end" class="t">60</text>
<path d="M614.7 176H618.9" stroke="#262626" stroke-width="1.35"/>
<text transform="translate(613.6 178.96) scale(0.97 1)" font-size="7.6" font-weight="bold" text-anchor="end" class="t">80</text>
<path d="M614.7 155.8H618.9" stroke="#262626" stroke-width="1.35"/>
<text transform="translate(613.6 158.76) scale(0.97 1)" font-size="7.6" font-weight="bold" text-anchor="end" class="t">100</text>
<path d="M618.9 256.8V261" stroke="#262626" stroke-width="1.35"/>
<text transform="translate(618.9 269.6) scale(0.97 1)" font-size="7.6" font-weight="bold" text-anchor="middle" class="t">0</text>
<path d="M695.1 256.8V261" stroke="#262626" stroke-width="1.35"/>
<text transform="translate(695.1 269.6) scale(0.97 1)" font-size="7.6" font-weight="bold" text-anchor="middle" class="t">50</text>
<path d="M771.3 256.8V261" stroke="#262626" stroke-width="1.35"/>
<text transform="translate(771.3 269.6) scale(0.97 1)" font-size="7.6" font-weight="bold" text-anchor="middle" class="t">100</text>
<path d="M626.52 256.8V259.4" stroke="#262626" stroke-width="1.1475"/>
<path d="M634.14 256.8V259.4" stroke="#262626" stroke-width="1.1475"/>
<path d="M641.76 256.8V259.4" stroke="#262626" stroke-width="1.1475"/>
<path d="M649.38 256.8V259.4" stroke="#262626" stroke-width="1.1475"/>
<path d="M657 256.8V259.4" stroke="#262626" stroke-width="1.1475"/>
<path d="M664.62 256.8V259.4" stroke="#262626" stroke-width="1.1475"/>
<path d="M672.24 256.8V259.4" stroke="#262626" stroke-width="1.1475"/>
<path d="M679.86 256.8V259.4" stroke="#262626" stroke-width="1.1475"/>
<path d="M687.48 256.8V259.4" stroke="#262626" stroke-width="1.1475"/>
<path d="M702.72 256.8V259.4" stroke="#262626" stroke-width="1.1475"/>
<path d="M710.34 256.8V259.4" stroke="#262626" stroke-width="1.1475"/>
<path d="M717.96 256.8V259.4" stroke="#262626" stroke-width="1.1475"/>
<path d="M725.58 256.8V259.4" stroke="#262626" stroke-width="1.1475"/>
<path d="M733.2 256.8V259.4" stroke="#262626" stroke-width="1.1475"/>
<path d="M740.82 256.8V259.4" stroke="#262626" stroke-width="1.1475"/>
<path d="M748.44 256.8V259.4" stroke="#262626" stroke-width="1.1475"/>
<path d="M756.06 256.8V259.4" stroke="#262626" stroke-width="1.1475"/>
<path d="M763.68 256.8V259.4" stroke="#262626" stroke-width="1.1475"/>
<path d="M618.9 155.8 L632.28 160.35 L638.97 171.46 L649 186.81 L664.06 200.75 L686.63 213.67 L720.51 231.75 L771.3 236.8" fill="none" stroke="#e45a5e" stroke-width="1.3" stroke-linejoin="round"/>
<path d="M632.28 152.27V168.43M629.88 168.43H634.68M629.88 152.27H634.68" stroke="#e45a5e" stroke-width="1.2" fill="none"/>
<path d="M664.06 186.61V214.89M661.66 214.89H666.46M661.66 186.61H666.46" stroke="#e45a5e" stroke-width="1.2" fill="none"/>
<path d="M618.9 153.22L621.43 157.92L616.37 157.92Z" fill="#e45a5e"/>
<path d="M632.28 157.76L634.81 162.46L629.75 162.46Z" fill="#e45a5e"/>
<path d="M638.97 168.87L641.5 173.57L636.44 173.57Z" fill="#e45a5e"/>
<path d="M649 184.22L651.53 188.92L646.47 188.92Z" fill="#e45a5e"/>
<path d="M664.06 198.16L666.59 202.86L661.53 202.86Z" fill="#e45a5e"/>
<path d="M686.63 211.09L689.16 215.79L684.1 215.79Z" fill="#e45a5e"/>
<path d="M720.51 229.17L723.04 233.87L717.98 233.87Z" fill="#e45a5e"/>
<path d="M771.3 234.22L773.83 238.92L768.77 238.92Z" fill="#e45a5e"/>
<path d="M618.9 155.8 L632.28 157.31 L638.97 168.32 L649 174.59 L664.06 201.55 L686.63 227.91 L720.51 241.75 L771.3 244.07" fill="none" stroke="#111" stroke-width="1.3" stroke-linejoin="round"/>
<path d="M632.28 130.05V166.41M629.88 166.41H634.68" stroke="#111" stroke-width="1.2" fill="none"/>
<path d="M638.97 129.94V185.49M636.57 185.49H641.37" stroke="#111" stroke-width="1.2" fill="none"/>
<path d="M649 168.53V180.65M646.6 180.65H651.4M646.6 168.53H651.4" stroke="#111" stroke-width="1.2" fill="none"/>
<path d="M686.63 222.86V232.96M684.23 232.96H689.03M684.23 222.86H689.03" stroke="#111" stroke-width="1.2" fill="none"/>
<circle cx="618.9" cy="155.8" r="2.45" fill="#111"/>
<circle cx="632.28" cy="157.31" r="2.45" fill="#111"/>
<circle cx="638.97" cy="168.32" r="2.45" fill="#111"/>
<circle cx="649" cy="174.59" r="2.45" fill="#111"/>
<circle cx="664.06" cy="201.55" r="2.45" fill="#111"/>
<circle cx="686.63" cy="227.91" r="2.45" fill="#111"/>
<circle cx="720.51" cy="241.75" r="2.45" fill="#111"/>
<circle cx="771.3" cy="244.07" r="2.45" fill="#111"/>
<text transform="translate(695.5 283.2) scale(1.08 1)" font-size="8" font-weight="bold" text-anchor="middle" class="x">mirin (&#956;M)</text>
<text transform="translate(595.6 206.4) rotate(-90)" font-size="8.2" font-weight="bold" text-anchor="middle" class="y">% live cells</text>
<path d="M686.5 201.11L686.5 207.89M683.95 203.03L689.05 205.97M689.05 203.03L683.95 205.97" stroke="#1a1a1a" stroke-width="1.35" fill="none"/>
<path d="M720.5 218.11L720.5 224.89M717.95 220.03L723.05 222.97M723.05 220.03L717.95 222.97" stroke="#1a1a1a" stroke-width="1.35" fill="none"/>
<path d="M297.1 24.5H308.2" stroke="#111" stroke-width="1.3"/>
<circle cx="303.2" cy="24.5" r="1.9" fill="#111"/>
<text x="314.1" y="26.8" font-size="8.4" class="l">FaDu control</text>
<path d="M297.1 39.5H308.2" stroke="#c4303f" stroke-width="1.3"/>
<rect x="301.3" y="37.6" width="3.8" height="3.8" fill="#c4303f"/>
<text x="314.1" y="41.3" font-size="8.4" class="l">FaDu shNSD1</text>
<path d="M695.1 24.2H705.6" stroke="#111" stroke-width="1.3"/>
<circle cx="700.4" cy="24.2" r="2.1" fill="#111"/>
<text x="711.3" y="26.6" font-size="8.4" class="l">SCC35 control</text>
<path d="M695.1 38.2H705.6" stroke="#ec1c24" stroke-width="1.3"/>
<path d="M700.4 36.18L702.81 39.85L697.99 39.85Z" fill="#ec1c24"/>
<text x="711.5" y="40.8" font-size="8.4" class="l">SCC35 NSD1 shall</text>
<path d="M381 12.2V277.3" stroke="#a8a8a8" stroke-width="1.5"/>
<text x="-0.2" y="14.1" font-size="20" font-weight="bold" stroke="#111" stroke-width="0.6">A</text>
<text x="390.6" y="14" font-size="19.5" font-weight="bold" stroke="#111" stroke-width="0.6">B</text>
</svg>
</body></html>
